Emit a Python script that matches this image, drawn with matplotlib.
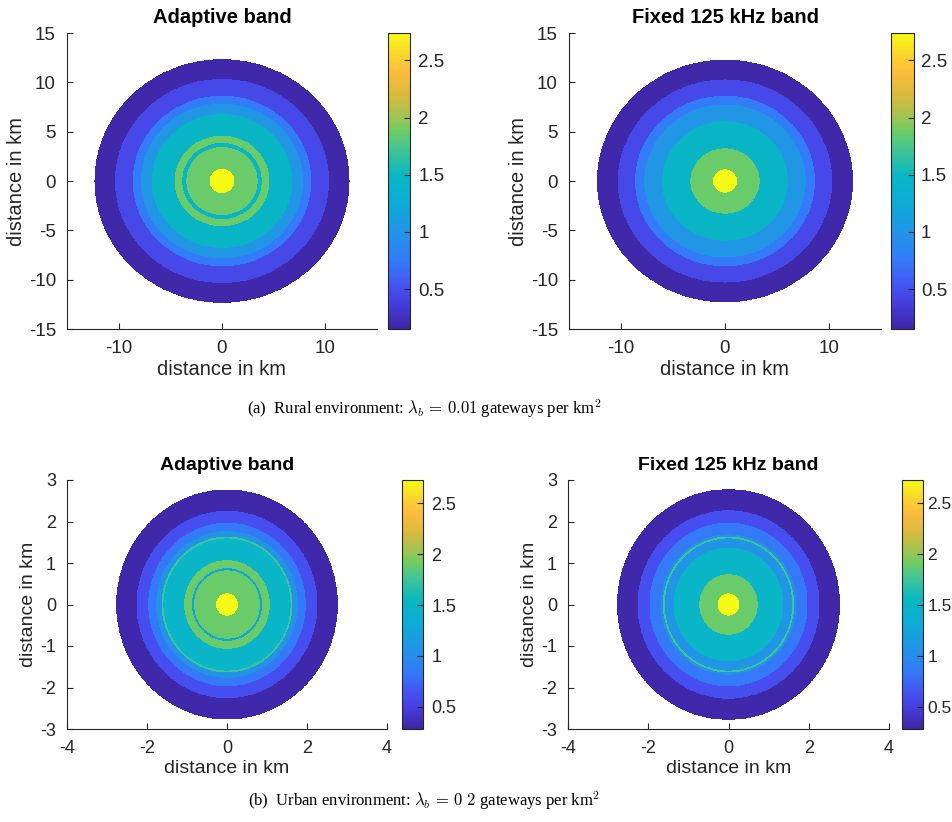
import numpy as np
import matplotlib
matplotlib.use("Agg")
import matplotlib.pyplot as plt
from matplotlib.colors import LinearSegmentedColormap

# ring outer radii (km, outside -> inside) and value of each ring
rural_adaptive_r = [12.35, 10.35, 8.65, 7.85, 6.8, 4.6, 3.85, 3.45, 1.22]
rural_adaptive_v = [0.18, 0.45, 0.75, 1.0, 1.45, 1.86, 1.45, 1.86, 2.74]
rural_fixed_r = [12.3, 10.3, 8.65, 7.75, 6.05, 3.32, 1.17]
rural_fixed_v = [0.18, 0.45, 0.75, 1.0, 1.45, 1.86, 2.74]
urban_adaptive_r = [2.77, 2.26, 1.97, 1.77, 1.635, 1.59, 1.07, 0.875, 0.825, 0.27]
urban_adaptive_v = [0.30, 0.61, 0.84, 1.08, 1.75, 1.5, 1.9, 1.26, 1.9, 2.73]
urban_fixed_r = [2.78, 2.27, 1.97, 1.69, 1.635, 1.59, 1.37, 0.73, 0.27]
urban_fixed_v = [0.30, 0.61, 0.84, 1.08, 1.75, 1.08, 1.5, 1.9, 2.73]

rural_clim = (0.15, 2.74)
urban_clim = (0.28, 2.73)
titles = ["Adaptive band", "Fixed 125 kHz band"]
cbar_ticks = [0.5, 1, 1.5, 2, 2.5]

# parula-like colormap
parula = LinearSegmentedColormap.from_list("parula_like", [
    (0.00, (0.243, 0.150, 0.640)),
    (0.07, (0.268, 0.220, 0.840)),
    (0.135, (0.275, 0.310, 0.940)),
    (0.23, (0.200, 0.480, 0.975)),
    (0.328, (0.130, 0.585, 0.900)),
    (0.42, (0.050, 0.670, 0.840)),
    (0.52, (0.030, 0.720, 0.760)),
    (0.62, (0.300, 0.780, 0.550)),
    (0.67, (0.430, 0.800, 0.390)),
    (0.714, (0.620, 0.770, 0.330)),
    (0.79, (0.850, 0.730, 0.240)),
    (0.87, (0.990, 0.740, 0.240)),
    (0.93, (0.980, 0.840, 0.170)),
    (1.00, (0.970, 0.980, 0.080)),
])

plt.rcParams['font.family'] = ['Liberation Sans', 'DejaVu Sans']
plt.rcParams['mathtext.fontset'] = 'cm'
TXT = (0.15, 0.15, 0.15)
W, H = 953, 822
fig = plt.figure(figsize=(W / 100, H / 100), dpi=100)


def box(x0, y0, x1, y1):
    return fig.add_axes([x0 / W, 1 - y1 / H, (x1 - x0) / W, (y1 - y0) / H])


def ring_field(radii, vals, lim, n=800):
    xs = np.linspace(-lim, lim, n)
    X, Y = np.meshgrid(xs, xs)
    R = np.hypot(X, Y)
    Z = np.full(R.shape, np.nan)
    for r, v in zip(radii, vals):
        Z[R <= r] = v
    return xs, np.ma.masked_invalid(Z)


def panel(axbox, cbbox, radii, vals, clim, lim, xlim, ylim, xticks, yticks, title,
          fs, cpad=6, cfs=None):
    ax = box(*axbox)
    xs, Z = ring_field(radii, vals, lim)
    mesh = ax.pcolormesh(xs, xs, Z, cmap=parula, vmin=clim[0], vmax=clim[1],
                         shading='auto', rasterized=True)
    ax.set_xlim(*xlim)
    ax.set_ylim(*ylim)
    ax.set_xticks(xticks)
    ax.set_yticks(yticks)
    ax.spines['top'].set_visible(False)
    ax.spines['right'].set_visible(False)
    for s in ['left', 'bottom']:
        ax.spines[s].set_color(TXT)
        ax.spines[s].set_linewidth(0.8)
    ax.tick_params(direction='in', length=4, width=0.8, colors=TXT,
                   labelsize=fs, labelcolor=TXT, pad=8)
    ax.set_xlabel('distance in km', fontsize=fs + 1, color=TXT, labelpad=2)
    ax.set_ylabel('distance in km', fontsize=fs + 1, color=TXT, labelpad=2)
    ax.set_title(title, fontsize=fs + 1, fontweight='bold', color='black', pad=7)
    ax.xaxis.set_major_formatter(matplotlib.ticker.FormatStrFormatter('%g'))
    ax.yaxis.set_major_formatter(matplotlib.ticker.FormatStrFormatter('%g'))

    cax = box(*cbbox)
    cb = fig.colorbar(mesh, cax=cax, ticks=cbar_ticks)
    cb.ax.set_yticklabels(['%g' % t for t in cbar_ticks])
    cb.outline.set_edgecolor(TXT)
    cb.outline.set_linewidth(0.8)
    cb.ax.tick_params(direction='in', length=4, width=0.8, colors=TXT,
                      labelsize=cfs or fs, labelcolor=TXT, pad=cpad)
    return ax


panel((67, 33, 377, 329), (388, 33, 410, 329), rural_adaptive_r, rural_adaptive_v,
      rural_clim, 13, (-15, 15), (-15, 15), [-10, 0, 10], np.arange(-15, 16, 5),
      titles[0], 13.5)
panel((569, 33, 881, 329), (891, 33, 914, 329), rural_fixed_r, rural_fixed_v,
      rural_clim, 13, (-15, 15), (-15, 15), [-10, 0, 10], np.arange(-15, 16, 5),
      titles[1], 13.5, cpad=5)
panel((67, 480, 387, 729), (402, 480, 423, 729), urban_adaptive_r, urban_adaptive_v,
      urban_clim, 3, (-4, 4), (-3, 3), np.arange(-4, 5, 2), np.arange(-3, 4, 1),
      titles[0], 13)
panel((568, 480, 889, 729), (902, 480, 923, 729), urban_fixed_r, urban_fixed_v,
      urban_clim, 3, (-4, 4), (-3, 3), np.arange(-4, 5, 2), np.arange(-3, 4, 1),
      titles[1], 13, cpad=3, cfs=12.5)

cap_kw = dict(ha='center', va='center', fontsize=12, color='black',
              family=['Liberation Serif', 'DejaVu Serif'])
fig.text(424 / W, 1 - 409 / H,
         r'(a)  Rural environment: $\lambda_b\,=\,0.01$ gateways per km$^2$', **cap_kw)
fig.text(424 / W, 1 - 801 / H,
         r'(b)  Urban environment: $\lambda_b\,=\,0\ 2$ gateways per km$^2$', **cap_kw)

fig.savefig('out.png', dpi=100)
